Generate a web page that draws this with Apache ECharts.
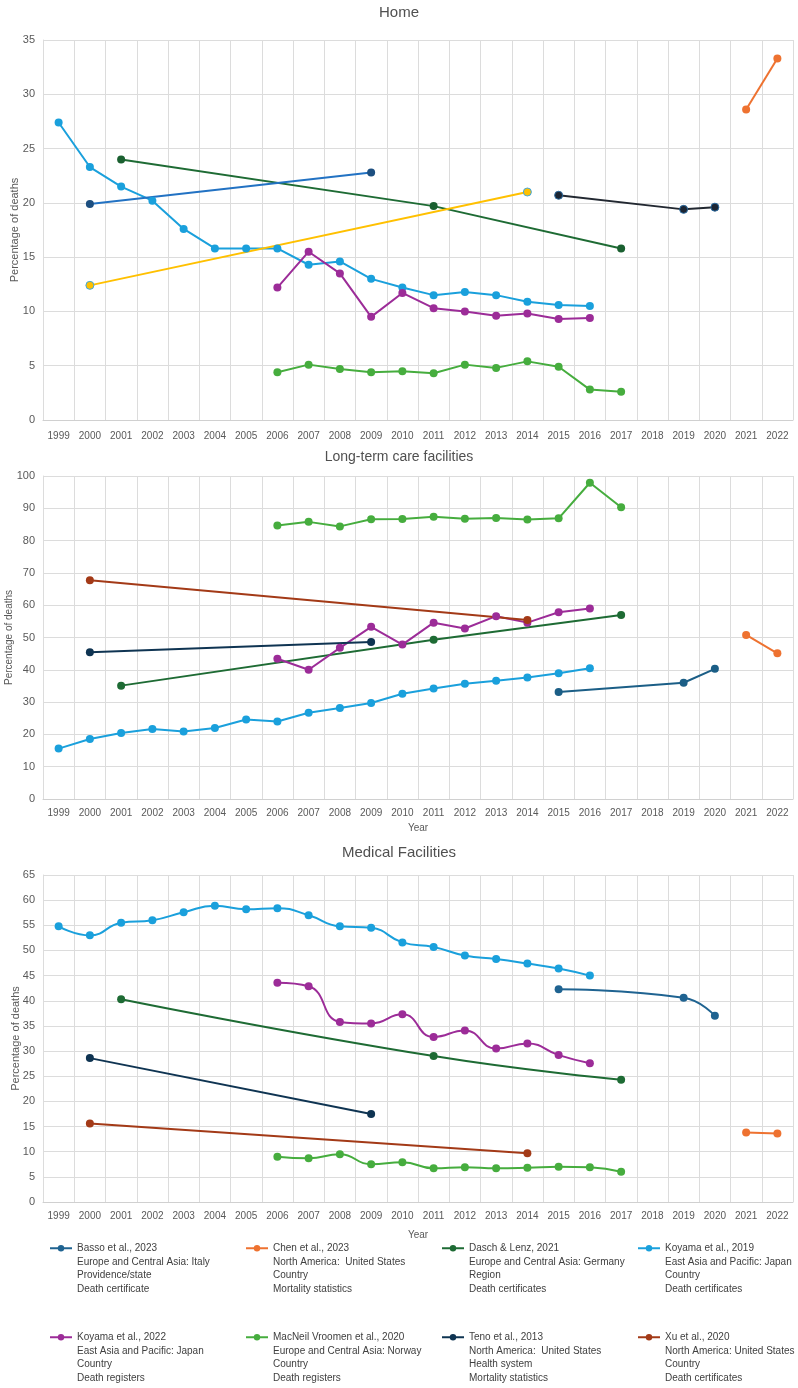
<!DOCTYPE html>
<html>
<head>
<meta charset="utf-8">
<script src="https://cdn.jsdelivr.net/npm/echarts@6/dist/echarts.min.js"></script>
<style>
html, body { margin: 0; padding: 0; background: #fff; }
#container { width: 798px; height: 1388px; }
</style>
</head>
<body>
<div id="container"></div>
<script>
var years = ['1999', '2000', '2001', '2002', '2003', '2004', '2005', '2006', '2007', '2008', '2009', '2010',
    '2011', '2012', '2013', '2014', '2015', '2016', '2017', '2018', '2019', '2020', '2021', '2022'];

// legend text
var studies = ['Basso et al., 2023', 'Chen et al., 2023', 'Dasch & Lenz, 2021', 'Koyama et al., 2019',
    'Koyama et al., 2022', 'MacNeil Vroomen et al., 2020', 'Teno et al., 2013', 'Xu et al., 2020'];
var regions = ['Europe and Central Asia: Italy', 'North America:  United States', 'Europe and Central Asia: Germany',
    'East Asia and Pacific: Japan', 'East Asia and Pacific: Japan', 'Europe and Central Asia: Norway',
    'North America:  United States', 'North America: United States'];
var levels = ['Providence/state', 'Country', 'Region', 'Country', 'Country', 'Country', 'Health system', 'Country'];
var sources = ['Death certificate', 'Mortality statistics', 'Death certificates', 'Death certificates',
    'Death registers', 'Death registers', 'Mortality statistics', 'Death certificates'];

// Home
var homeBasso = [['2015', 20.7], ['2019', 19.4], ['2020', 19.6]];
var homeChen = [['2021', 28.6], ['2022', 33.3]];
var homeDasch = [['2001', 24.0], ['2011', 19.7], ['2017', 15.8]];
var homeKoyama2019 = [['1999', 27.4], ['2000', 23.3], ['2001', 21.5], ['2002', 20.2], ['2003', 17.6], ['2004', 15.8],
    ['2005', 15.8], ['2006', 15.8], ['2007', 14.3], ['2008', 14.6], ['2009', 13.0], ['2010', 12.2], ['2011', 11.5],
    ['2012', 11.8], ['2013', 11.5], ['2014', 10.9], ['2015', 10.6], ['2016', 10.5]];
var homeKoyama2022 = [['2006', 12.2], ['2007', 15.5], ['2008', 13.5], ['2009', 9.5], ['2010', 11.7], ['2011', 10.3],
    ['2012', 10.0], ['2013', 9.6], ['2014', 9.8], ['2015', 9.3], ['2016', 9.4]];
var homeMacNeil = [['2006', 4.4], ['2007', 5.1], ['2008', 4.7], ['2009', 4.4], ['2010', 4.5], ['2011', 4.3],
    ['2012', 5.1], ['2013', 4.8], ['2014', 5.4], ['2015', 4.9], ['2016', 2.8], ['2017', 2.6]];
var homeTeno = [['2000', 19.9], ['2009', 22.8]];
var homeXu = [['2000', 12.4], ['2014', 21.0]];

// Long-term care facilities
var ltcBasso = [['2015', 33.1], ['2019', 36.0], ['2020', 40.3]];
var ltcChen = [['2021', 50.8], ['2022', 45.1]];
var ltcDasch = [['2001', 35.1], ['2011', 49.3], ['2017', 57.0]];
var ltcKoyama2019 = [['1999', 15.6], ['2000', 18.6], ['2001', 20.4], ['2002', 21.7], ['2003', 20.9], ['2004', 22.0],
    ['2005', 24.6], ['2006', 24.0], ['2007', 26.7], ['2008', 28.2], ['2009', 29.7], ['2010', 32.6], ['2011', 34.2],
    ['2012', 35.7], ['2013', 36.6], ['2014', 37.6], ['2015', 38.9], ['2016', 40.5]];
var ltcKoyama2022 = [['2006', 43.4], ['2007', 40.0], ['2008', 46.8], ['2009', 53.3], ['2010', 47.8], ['2011', 54.6],
    ['2012', 52.8], ['2013', 56.6], ['2014', 54.6], ['2015', 57.8], ['2016', 59.0]];
var ltcMacNeil = [['2006', 84.7], ['2007', 85.8], ['2008', 84.4], ['2009', 86.6], ['2010', 86.7], ['2011', 87.4],
    ['2012', 86.8], ['2013', 87.0], ['2014', 86.5], ['2015', 86.9], ['2016', 97.9], ['2017', 90.3]];
var ltcTeno = [['2000', 45.4], ['2009', 48.6]];
var ltcXu = [['2000', 67.7], ['2014', 55.4]];

// Medical facilities
var medBasso = [['2015', 42.3], ['2019', 40.6], ['2020', 37.0]];
var medChen = [['2021', 13.8], ['2022', 13.6]];
var medDasch = [['2001', 40.3], ['2011', 29.0], ['2017', 24.3]];
var medKoyama2019 = [['1999', 54.8], ['2000', 53.0], ['2001', 55.5], ['2002', 56.0], ['2003', 57.6], ['2004', 58.9],
    ['2005', 58.2], ['2006', 58.4], ['2007', 57.0], ['2008', 54.8], ['2009', 54.5], ['2010', 51.6], ['2011', 50.7],
    ['2012', 49.0], ['2013', 48.3], ['2014', 47.4], ['2015', 46.4], ['2016', 45.0]];
var medKoyama2022 = [['2006', 43.6], ['2007', 42.9], ['2008', 35.8], ['2009', 35.5], ['2010', 37.3], ['2011', 32.8],
    ['2012', 34.1], ['2013', 30.5], ['2014', 31.5], ['2015', 29.2], ['2016', 27.6]];
var medMacNeil = [['2006', 9.0], ['2007', 8.7], ['2008', 9.5], ['2009', 7.5], ['2010', 7.9], ['2011', 6.7],
    ['2012', 6.9], ['2013', 6.7], ['2014', 6.8], ['2015', 7.0], ['2016', 6.9], ['2017', 6.0]];
var medTeno = [['2000', 28.6], ['2009', 17.5]];
var medXu = [['2000', 15.6], ['2014', 9.7]];

var homeData = [homeBasso, homeChen, homeDasch, homeKoyama2019, homeKoyama2022, homeMacNeil, homeTeno, homeXu];
var ltcData = [ltcBasso, ltcChen, ltcDasch, ltcKoyama2019, ltcKoyama2022, ltcMacNeil, ltcTeno, ltcXu];
var medData = [medBasso, medChen, medDasch, medKoyama2019, medKoyama2022, medMacNeil, medTeno, medXu];

// colours
var mainColors = ['#1f6391', '#ee7230', '#1e6b34', '#1aa0dc', '#9c2c98', '#46ad3e', '#0f3452', '#a33a17'];
var ltcColors = ['#1b5e86', '#ee7230', '#1e6b34', '#1aa0dc', '#9c2c98', '#46ad3e', '#0f3452', '#a33a17'];
var homeLineColors = ['#222831', '#ee7230', '#1e6b34', '#1aa0dc', '#9c2c98', '#46ad3e', '#2272c3', '#ffc000'];
var homeDotColors = ['#1c2533', '#ee7230', '#1a6030', '#1aa0dc', '#9c2c98', '#46ad3e', '#1d4f80', '#ffc000'];
var homeDotBorders = ['#2a6aa0', null, null, null, null, null, null, '#41a8de'];

var axisFont = 'Liberation Sans, Arial, sans-serif';

function lineSeries(i, data, gridIdx, lineColor, dotColor, border, smooth) {
    return {
        name: studies[i],
        type: 'line',
        xAxisIndex: gridIdx,
        yAxisIndex: gridIdx,
        data: data,
        smooth: smooth,
        symbol: 'circle',
        symbolSize: 8,
        connectNulls: true,
        lineStyle: { color: lineColor, width: 2 },
        itemStyle: { color: dotColor, borderColor: border || dotColor, borderWidth: border ? 1 : 0 },
        emphasis: { disabled: true }
    };
}

var series = [];
for (var i = 0; i < studies.length; i++) {
    series.push(lineSeries(i, medData[i], 2, mainColors[i], mainColors[i], null, 0.5));
}
for (var i = 0; i < studies.length; i++) {
    series.push(lineSeries(i, ltcData[i], 1, ltcColors[i], ltcColors[i], null, false));
}
for (var i = 0; i < studies.length; i++) {
    series.push(lineSeries(i, homeData[i], 0, homeLineColors[i], homeDotColors[i], homeDotBorders[i], false));
}

var gridPos = [
    { left: 43, right: 5, top: 40, height: 380 },
    { left: 43, right: 5, top: 476, height: 323 },
    { left: 43, right: 5, top: 875, height: 327 }
];
var yMax = [35, 100, 65];
var yStep = [5, 10, 5];
var yNameGap = [23, 29, 22];
var yNameSize = [11, 10, 11];

function makeX(idx, name) {
    return {
        type: 'category',
        gridIndex: idx,
        data: years,
        boundaryGap: true,
        name: name,
        nameLocation: 'middle',
        nameGap: idx === 1 ? 24 : 28,
        nameTextStyle: { color: '#595959', fontSize: 10, fontFamily: axisFont },
        axisLine: { show: true, lineStyle: { color: '#d0d0d0', width: 1 } },
        axisTick: { show: false },
        axisLabel: { color: '#595959', fontSize: 10, fontFamily: axisFont, margin: idx === 0 ? 11 : 9, interval: 0 },
        splitLine: { show: true, lineStyle: { color: '#dcdcdc', width: 1 } }
    };
}
function makeY(idx) {
    return {
        type: 'value',
        gridIndex: idx,
        min: 0,
        max: yMax[idx],
        interval: yStep[idx],
        name: 'Percentage of deaths',
        nameLocation: 'middle',
        nameGap: yNameGap[idx],
        nameMoveOverlap: false,
        nameTextStyle: { color: '#595959', fontSize: yNameSize[idx], fontFamily: axisFont },
        axisLine: { show: true, lineStyle: { color: '#dcdcdc', width: 1 } },
        axisTick: { show: false },
        axisLabel: { color: '#595959', fontSize: 11, fontFamily: axisFont, margin: 8 },
        splitLine: { show: true, lineStyle: { color: '#dcdcdc', width: 1 } }
    };
}

// one legend per study, 4 columns x 2 rows; three empty lines on top keep the icon on the first text line
var legendLeft = [49, 245, 441, 637];
var legendTop = [1201, 1290];
var legends = studies.map(function (name, k) {
    return {
        left: legendLeft[k % 4],
        top: legendTop[Math.floor(k / 4)],
        padding: 0,
        itemGap: 0,
        itemWidth: 22,
        itemHeight: 8,
        selectedMode: false,
        data: [name],
        formatter: function (n) {
            var j = studies.indexOf(n);
            return '\n\n\n' + n + '\n' + regions[j] + '\n' + levels[j] + '\n' + sources[j];
        },
        textStyle: { color: '#404040', fontSize: 10, lineHeight: 13.5, fontFamily: axisFont }
    };
});

var dom = document.getElementById('container');
var myChart = echarts.init(dom, null, { renderer: 'canvas' });
var option = {
    backgroundColor: '#ffffff',
    animation: false,
    title: [
        { text: 'Home', left: 'center', top: 5, padding: 0, textStyle: { color: '#505050', fontSize: 15, fontWeight: 'normal', fontFamily: axisFont } },
        { text: 'Long-term care facilities', left: 'center', top: 450, padding: 0, textStyle: { color: '#505050', fontSize: 14, fontWeight: 'normal', fontFamily: axisFont } },
        { text: 'Medical Facilities', left: 'center', top: 845, padding: 0, textStyle: { color: '#505050', fontSize: 15, fontWeight: 'normal', fontFamily: axisFont } }
    ],
    grid: gridPos.map(function (g) {
        return { left: g.left, right: g.right, top: g.top, height: g.height, containLabel: false, outerBoundsMode: 'none' };
    }),
    xAxis: [makeX(0, ''), makeX(1, 'Year'), makeX(2, 'Year')],
    yAxis: [makeY(0), makeY(1), makeY(2)],
    legend: legends,
    series: series
};

if (option && typeof option === 'object') {
    myChart.setOption(option, true);
}
</script>
</body>
</html>
